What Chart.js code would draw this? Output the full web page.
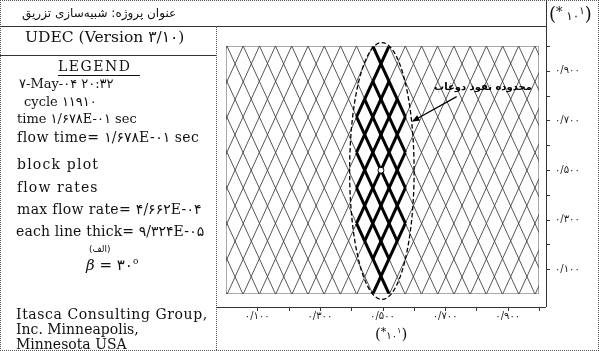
<!DOCTYPE html>
<html>
<head>
<meta charset="utf-8">
<script src="https://cdn.jsdelivr.net/npm/chart.js@4.4.0/dist/chart.umd.min.js"></script>
<style>
  body { margin: 0; background: #fff; }
  #wrap { position: relative; width: 599px; height: 351px; overflow: hidden; color: #111;
          font-family: "DejaVu Serif", "DejaVu Sans", serif; }
  #plot { position: absolute; left: 0; top: 0; }
  .ln { position: absolute; }
  .t { position: absolute; white-space: nowrap; line-height: 1; font-size: 13px; }
  .b { font-size: 14px; }
  .fa { font-family: "DejaVu Sans", sans-serif; }
  .mul { position: absolute; white-space: nowrap; line-height: 1; font-size: 15px; }
  .mul .d { font-family: "DejaVu Sans", sans-serif; font-size: 10px; }
  .mul .s { font-family: "DejaVu Sans", sans-serif; font-size: 8px; position: relative; top: -6px; }
  .mul .st { font-size: 11px; position: relative; top: -4px; }
</style>
</head>
<body>
<div id="wrap">
  <canvas id="plot" width="599" height="351"></canvas>

  <!-- قاب صفحه -->
  <div class="ln" style="left:0;top:0;width:597px;height:349px;border:1px dotted #555"></div>
  <div class="ln" style="left:0;top:26px;width:546px;border-top:1px solid #333"></div>
  <div class="ln" style="left:546px;top:0;height:307px;border-left:1px solid #333"></div>
  <div class="ln" style="left:216px;top:26px;height:324px;border-left:1px dotted #555"></div>
  <div class="ln" style="left:216px;top:307px;width:330px;border-top:1px solid #333"></div>
  <div class="ln" style="left:0;top:55px;width:216px;border-top:1px solid #333"></div>
  <div class="ln" style="left:58px;top:75px;width:82px;border-top:1px solid #111"></div>

  <!-- عنوان -->
  <div class="t fa" dir="rtl" style="left:22px;top:7px;font-size:12px">عنوان پروژه: شبیه‌سازی تزریق</div>

  <!-- پنل سمت چپ -->
  <div class="t" style="left:25px;top:30px;font-size:15.5px">UDEC (Version ۳/۱۰)</div>
  <div class="t" style="left:58px;top:59px;font-size:14px;letter-spacing:1.5px">LEGEND</div>
  <div class="t" style="left:19px;top:77px">۷-May-۰۴ ۲۰:۳۲</div>
  <div class="t" style="left:24px;top:95px">cycle ۱۱۹۱۰</div>
  <div class="t" style="left:17px;top:112px">time ۱/۶۷۸E-۰۱ sec</div>
  <div class="t b" style="left:17px;top:130px;letter-spacing:0.45px">flow time= ۱/۶۷۸E-۰۱ sec</div>
  <div class="t b" style="left:17px;top:157px;letter-spacing:1.2px">block plot</div>
  <div class="t b" style="left:17px;top:180px;letter-spacing:1.1px">flow rates</div>
  <div class="t b" style="left:17px;top:202px;letter-spacing:0.35px">max flow rate= ۴/۶۶۲E-۰۴</div>
  <div class="t b" style="left:16px;top:224px;letter-spacing:0.15px">each line thick= ۹/۳۲۴E-۰۵</div>
  <div class="t fa" dir="rtl" style="left:89px;top:245px;font-size:9px">(الف)</div>
  <div class="t" style="left:86px;top:258px;font-size:15px"><i>β</i> = ۳۰<span style="font-size:9px;position:relative;top:-6px">o</span></div>
  <div class="t b" style="left:16px;top:307px;letter-spacing:0.6px">Itasca Consulting Group,</div>
  <div class="t b" style="left:16px;top:322px">Inc. Minneapolis,</div>
  <div class="t b" style="left:16px;top:337px">Minnesota USA</div>

  <!-- ضریب محورها -->
  <div class="mul" style="left:549px;top:5px;font-size:18px">(<span class="st" style="font-size:13px">*</span><span class="d" style="font-size:12px"> ۱۰</span><span class="s" style="font-size:10px">۱</span>)</div>
  <div class="mul" style="left:375px;top:327px">(<span class="st">*</span><span class="d">۱۰</span><span class="s">۱</span>)</div>
</div>

<script>
// 1. داده‌ها (واحد محورها: ×۱۰ متر)

// محل برخورد درزه‌ها با لبه بالای مدل
const jointTops = [-0.360, -0.308, -0.256, -0.204, -0.152, -0.101, -0.049,
  0.003, 0.055, 0.107, 0.158, 0.210, 0.262, 0.314, 0.366, 0.417, 0.469,
  0.521, 0.573, 0.625, 0.676, 0.728, 0.780, 0.832, 0.884, 0.935, 0.987,
  1.039, 1.091, 1.143, 1.194, 1.246, 1.298, 1.350];
// جابجایی افقی هر درزه از بالا تا پایین مدل
const jointRun = 0.362;

// قطعه‌های درزه که جریان دارند (خط ضخیم): x1, y1, x2, y2
const flowSegments = [
  [0.469, 1.000, 0.573, 0.714],
  [0.469, 0.857, 0.573, 0.571],
  [0.443, 0.785, 0.573, 0.428],
  [0.417, 0.714, 0.573, 0.285],
  [0.417, 0.571, 0.547, 0.213],
  [0.417, 0.428, 0.521, 0.141],
  [0.417, 0.285, 0.521, 0.000],
  [0.521, 1.000, 0.417, 0.714],
  [0.521, 0.857, 0.417, 0.571],
  [0.547, 0.785, 0.417, 0.428],
  [0.573, 0.714, 0.417, 0.285],
  [0.573, 0.571, 0.443, 0.213],
  [0.573, 0.428, 0.469, 0.141],
  [0.573, 0.285, 0.469, 0.000]
];

// نقطه تزریق
const injectionPoint = [{ x: 0.495, y: 0.499 }];

// بیضی محدوده نفوذ دوغاب
const groutZone = { cx: 0.498, cy: 0.496, rx: 0.103, ry: 0.518 };
const zoneLabel = 'محدوده نفوذ دوغاب';
const zoneLabelAt = { x: 0.821, y: 0.835 };
const arrowFrom = { x: 0.737, y: 0.796 };
const arrowTo = { x: 0.593, y: 0.695 };

// برچسب‌های محور
const xTickValues = [0.1, 0.3, 0.5, 0.7, 0.9];
const xTickLabels = ['۰/۱۰۰', '۰/۳۰۰', '۰/۵۰۰', '۰/۷۰۰', '۰/۹۰۰'];
const yTickValues = [0.1, 0.3, 0.5, 0.7, 0.9];
const yTickLabels = ['۰/۱۰۰', '۰/۳۰۰', '۰/۵۰۰', '۰/۷۰۰', '۰/۹۰۰'];
const minorTickValues = [0.2, 0.4, 0.6, 0.8, 1.0];

// 2. ساخت دیتاست‌ها
const datasets = [];

datasets.push({
  data: injectionPoint,
  showLine: false,
  pointRadius: 3,
  pointBackgroundColor: '#fff',
  pointBorderColor: '#000',
  pointBorderWidth: 1,
  order: 0
});

flowSegments.forEach(s => {
  datasets.push({
    data: [{ x: s[0], y: s[1] }, { x: s[2], y: s[3] }],
    showLine: true,
    borderColor: '#000',
    borderWidth: 3,
    pointRadius: 0,
    order: 1
  });
});

// درزه‌های مورب به سمت راست-پایین
jointTops.filter(t => t <= 1).forEach(t => {
  datasets.push({
    data: [{ x: t, y: 1 }, { x: t + jointRun, y: 0 }],
    showLine: true,
    borderColor: '#444',
    borderWidth: 0.9,
    pointRadius: 0,
    order: 2
  });
});

// درزه‌های مورب به سمت چپ-پایین
jointTops.filter(t => t >= 0).forEach(t => {
  datasets.push({
    data: [{ x: t, y: 1 }, { x: t - jointRun, y: 0 }],
    showLine: true,
    borderColor: '#444',
    borderWidth: 0.9,
    pointRadius: 0,
    order: 2
  });
});

// 3. پلاگین: قاب نمودار، بیضی، فلش و تیک‌ها
const plotExtras = {
  id: 'plotExtras',
  afterDatasetsDraw(chart) {
    const { ctx, chartArea: a, scales: { x, y } } = chart;
    ctx.save();

    // قاب نقطه‌چین دور مدل
    ctx.strokeStyle = '#555';
    ctx.lineWidth = 1;
    ctx.setLineDash([1, 1]);
    ctx.strokeRect(a.left + 0.5, a.top + 0.5, a.width - 1, a.height - 1);

    // بیضی خط‌چین
    const pxPerX = x.getPixelForValue(1) - x.getPixelForValue(0);
    const pxPerY = y.getPixelForValue(0) - y.getPixelForValue(1);
    ctx.strokeStyle = '#000';
    ctx.lineWidth = 1.3;
    ctx.setLineDash([4.5, 2.5]);
    ctx.beginPath();
    ctx.ellipse(x.getPixelForValue(groutZone.cx), y.getPixelForValue(groutZone.cy),
      groutZone.rx * pxPerX, groutZone.ry * pxPerY, 0, 0, Math.PI * 2);
    ctx.stroke();

    // فلش
    ctx.setLineDash([]);
    const x1 = x.getPixelForValue(arrowFrom.x), y1 = y.getPixelForValue(arrowFrom.y);
    const x2 = x.getPixelForValue(arrowTo.x), y2 = y.getPixelForValue(arrowTo.y);
    const ang = Math.atan2(y2 - y1, x2 - x1);
    ctx.lineWidth = 1.3;
    ctx.beginPath();
    ctx.moveTo(x1, y1);
    ctx.lineTo(x2 - 5 * Math.cos(ang), y2 - 5 * Math.sin(ang));
    ctx.stroke();
    ctx.fillStyle = '#000';
    ctx.beginPath();
    ctx.moveTo(x2, y2);
    ctx.lineTo(x2 - 8 * Math.cos(ang) + 3 * Math.sin(ang), y2 - 8 * Math.sin(ang) - 3 * Math.cos(ang));
    ctx.lineTo(x2 - 8 * Math.cos(ang) - 3 * Math.sin(ang), y2 - 8 * Math.sin(ang) + 3 * Math.cos(ang));
    ctx.closePath();
    ctx.fill();

    // متن
    ctx.font = 'bold 10px "DejaVu Sans"';
    ctx.direction = 'rtl';
    ctx.textAlign = 'center';
    ctx.textBaseline = 'middle';
    ctx.fillText(zoneLabel, x.getPixelForValue(zoneLabelAt.x), y.getPixelForValue(zoneLabelAt.y));

    // تیک‌های محور روی خطوط قاب
    ctx.strokeStyle = '#333';
    ctx.lineWidth = 1;
    xTickValues.concat(minorTickValues).forEach(v => {
      const px = Math.round(x.getPixelForValue(v)) + 0.5;
      ctx.beginPath();
      ctx.moveTo(px, 308);
      ctx.lineTo(px, 311);
      ctx.stroke();
    });
    yTickValues.concat(minorTickValues).forEach(v => {
      const py = Math.round(y.getPixelForValue(v)) + 0.5;
      ctx.beginPath();
      ctx.moveTo(547, py);
      ctx.lineTo(550, py);
      ctx.stroke();
    });

    ctx.restore();
  }
};

// 4. ساخت نمودار
const tickFont = { family: 'DejaVu Sans', size: 10 };

new Chart(document.getElementById('plot').getContext('2d'), {
  type: 'scatter',
  data: { datasets: datasets },
  options: {
    responsive: false,
    animation: false,
    events: [],
    layout: { padding: { left: 226, top: 46, right: 0, bottom: 0 } },
    plugins: { legend: { display: false }, tooltip: { enabled: false } },
    scales: {
      x: {
        type: 'linear', position: 'bottom', min: 0, max: 1,
        grid: { display: false, drawTicks: false },
        border: { display: false },
        afterBuildTicks: s => { s.ticks = xTickValues.map(v => ({ value: v })); },
        afterFit: s => { s.height = 57; },
        ticks: {
          autoSkip: false, maxRotation: 0, padding: 16, color: '#222', font: tickFont,
          callback: (v, i) => xTickLabels[i]
        }
      },
      y: {
        type: 'linear', position: 'right', min: 0, max: 1,
        grid: { display: false, drawTicks: false },
        border: { display: false },
        afterBuildTicks: s => { s.ticks = yTickValues.map(v => ({ value: v })); },
        afterFit: s => { s.width = 60; },
        ticks: {
          autoSkip: false, padding: 16, color: '#222', font: tickFont,
          callback: (v, i) => yTickLabels[i]
        }
      }
    }
  },
  plugins: [plotExtras]
});
</script>
</body>
</html>
